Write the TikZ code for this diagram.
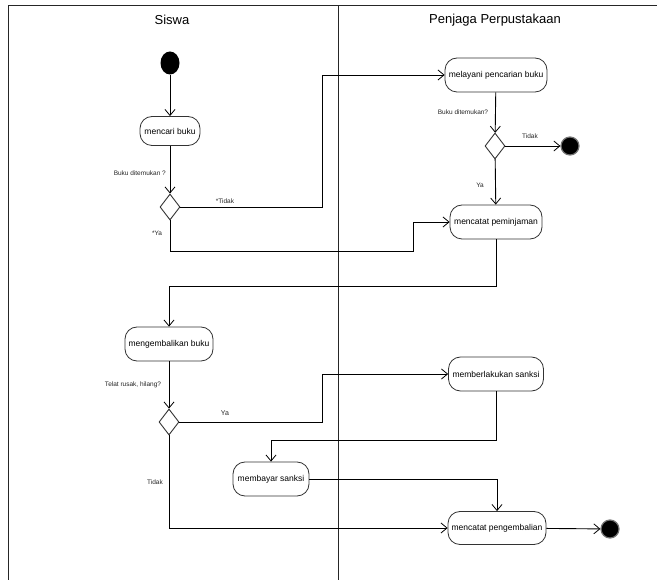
\documentclass[tikz,border=0pt]{standalone}
\usepackage{fontspec}
\setmainfont{Liberation Sans}
\usetikzlibrary{arrows.meta,shapes.geometric}
\begin{document}
\begin{tikzpicture}[x=1pt,y=-1pt,
  act/.style={draw=black!80,line width=0.8pt,rounded corners=12pt,minimum height=34pt,inner sep=0pt,font=\fontsize{8.5}{9}\selectfont},
  dec/.style={draw=black!80,line width=0.9pt,diamond,minimum width=20pt,minimum height=26pt,inner sep=0pt,aspect=0.77},
  flow/.style={line width=0.9pt,-{Straight Barb[length=6pt,width=10pt,line width=0.8pt]}},
  lbl/.style={font=\fontsize{6.5}{7}\selectfont,inner sep=0pt,text=black!85},
  lane/.style={line width=1pt,black!85},
  hdr/.style={font=\fontsize{13}{14}\selectfont}]
\useasboundingbox (0,0) rectangle (657,580);
\fill[white] (0,0) rectangle (657,580);
% frame
\coordinate (tl) at (8,6);
\coordinate (tr) at (657,6);
\coordinate (bl) at (8,580);
\coordinate (dt) at (338,6);
\coordinate (db) at (338,580);
\draw[lane] (tr) -- (tl) -- (bl);
\draw[lane] (dt) -- (db);
\node[hdr] (h1) at (172,20) {Siswa};
\node[hdr] (h2) at (495,20) {Penjaga Perpustakaan};
% nodes
\node[fill=black,ellipse,minimum width=19pt,minimum height=23pt,inner sep=0pt] (start) at (170,63) {};
\node[act,minimum width=60pt,minimum height=29pt] (cari) at (170,131) {mencari buku};
\node[dec] (d1) at (170,207) {};
\node[act,minimum width=102pt] (layani) at (496,75) {melayani pencarian buku};
\node[dec] (d2) at (495,146) {};
\node[circle,fill=black,draw=black!55,line width=1.2pt,minimum size=18pt,inner sep=0pt] (end1) at (570,146) {};
\node[act,minimum width=92pt] (pinjam) at (496,222) {mencatat peminjaman};
\node[act,minimum width=88pt] (kembali) at (169,344) {mengembalikan buku};
\node[dec] (d3) at (169,422) {};
\node[act,minimum width=95pt] (sanksi) at (496,374) {memberlakukan sanksi};
\node[act,minimum width=76pt] (bayar) at (271,479) {membayar sanksi};
\node[act,minimum width=98pt,minimum height=33pt] (catat) at (497,528) {mencatat pengembalian};
\node[circle,fill=black,draw=black!55,line width=1.2pt,minimum size=18pt,inner sep=0pt] (end2) at (610,529) {};
% turn points
\coordinate (c1) at (322,75);
\coordinate (c2) at (413,251);
\coordinate (c3) at (169,286);
\coordinate (c4) at (322,374);
\coordinate (c5) at (271,440);
% connectors
\draw[flow] (start) -- (cari);
\draw[flow] (cari) -- (d1);
\draw[flow] (d1.east) -| (c1) -- (layani.west);
\draw[flow] (d1.south) |- (c2) |- (pinjam.west);
\draw[flow] (layani) -- (d2);
\draw[flow] (d2.east) -- (end1);
\draw[flow] (d2) -- (pinjam);
\draw[flow] (pinjam.south) |- (c3) -- (kembali.north);
\draw[flow] (kembali) -- (d3);
\draw[flow] (d3.east) -| (c4) -- (sanksi.west);
\draw[flow] (sanksi.south) |- (c5) -- (bayar.north);
\draw[flow] (bayar.east) -| (catat.north);
\draw[flow] (d3.south) |- (catat.west);
\draw[flow] (catat) -- (end2);
% labels
\node[lbl,anchor=east] (l1) at (166,173) {Buku ditemukan ?};
\node[lbl] (l2) at (225,201) {*Tidak};
\node[lbl] (l3) at (157,233) {*Ya};
\node[lbl] (l4) at (463,112) {Buku ditemukan?};
\node[lbl] (l5) at (530,136) {Tidak};
\node[lbl] (l6) at (480,185) {Ya};
\node[lbl] (l7) at (133,385) {Telat rusak, hilang?};
\node[lbl,font=\fontsize{7}{8}\selectfont] (l8) at (225,413) {Ya};
\node[lbl] (l9) at (155,482) {Tidak};
\end{tikzpicture}
\end{document}
